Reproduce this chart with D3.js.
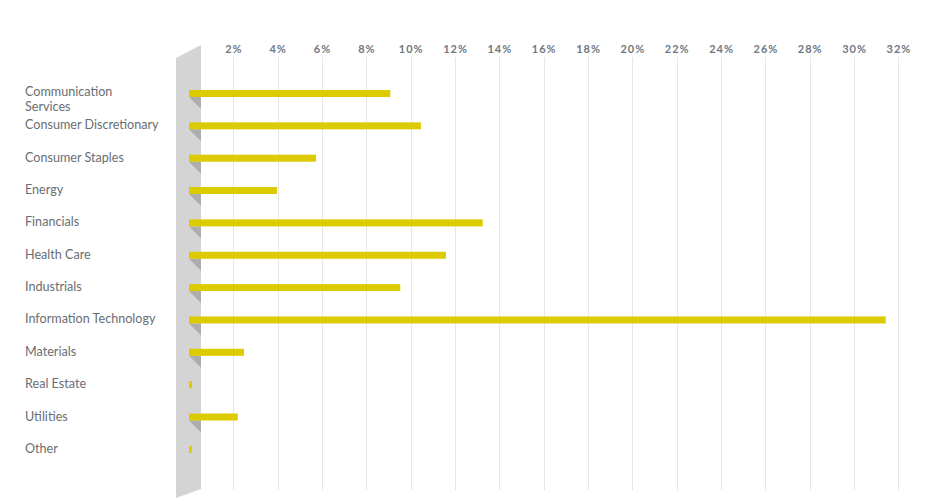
<!DOCTYPE html>
<html>
<head>
<meta charset="utf-8">
<script src="https://cdn.jsdelivr.net/npm/d3@7/dist/d3.min.js"></script>
<style>
  html, body { margin: 0; padding: 0; background: #ffffff; }
  svg { display: block; }
</style>
</head>
<body>
<svg id="chart" width="930" height="499"></svg>
<script>
const categories = [
  "Communication Services",
  "Consumer Discretionary",
  "Consumer Staples",
  "Energy",
  "Financials",
  "Health Care",
  "Industrials",
  "Information Technology",
  "Materials",
  "Real Estate",
  "Utilities",
  "Other"
];
const labelLines = [
  ["Communication", "Services"],
  ["Consumer Discretionary"],
  ["Consumer Staples"],
  ["Energy"],
  ["Financials"],
  ["Health Care"],
  ["Industrials"],
  ["Information Technology"],
  ["Materials"],
  ["Real Estate"],
  ["Utilities"],
  ["Other"]
];
const weights = [9.08, 10.46, 5.73, 3.97, 13.25, 11.59, 9.53, 31.43, 2.48, 0.14, 2.2, 0.13];
const tickValues = [2, 4, 6, 8, 10, 12, 14, 16, 18, 20, 22, 24, 26, 28, 30, 32];
const tickLabels = tickValues.map(v => v + "%");

const svg = d3.select("#chart");

const x = d3.scaleLinear().domain([0, 32]).range([189, 898.4]);
const y = d3.scalePoint().domain(categories).range([93.5, 93.5 + 11 * 32.35]);
const barH = 7;

// grid lines
svg.append("g").selectAll("line")
  .data(tickValues)
  .join("line")
  .attr("x1", d => Math.round(x(d)) + 0.5)
  .attr("x2", d => Math.round(x(d)) + 0.5)
  .attr("y1", 57)
  .attr("y2", 490)
  .attr("stroke", "#e6e6e6")
  .attr("stroke-width", 1);

// tick labels via axis
const axis = d3.axisTop(x).tickValues(tickValues).tickFormat((d, i) => tickLabels[i]).tickSize(0).tickPadding(0);
const ag = svg.append("g").attr("transform", "translate(0,53)").call(axis);
ag.select(".domain").remove();
ag.selectAll("text")
  .attr("fill", "#6f7780")
  .attr("font-family", "Lato, 'Open Sans', sans-serif")
  .attr("font-weight", "700")
  .attr("font-size", "11px")
  .style("letter-spacing", "1px");

// gray panel
const px0 = 176, px1 = 201;
svg.append("path")
  .attr("d", `M${px0},58 L${px1},45 L${px1},489 L${px0},498 Z`)
  .attr("fill", "#d4d4d4");

// shadows
svg.append("g").selectAll("path")
  .data(categories.map((c, i) => ({c, v: weights[i]})).filter(d => x(d.v) - x(0) >= 12))
  .join("path")
  .attr("d", d => {
    const top = y(d.c) + barH / 2;
    return `M${x(0)},${top} L${px1},${top} L${px1},${top + 12} Z`;
  })
  .attr("fill", "#adadad");

// bars
svg.append("g").selectAll("rect")
  .data(categories.map((c, i) => ({c, v: weights[i]})))
  .join("rect")
  .attr("x", x(0))
  .attr("y", d => y(d.c) - barH / 2)
  .attr("width", d => x(d.v) - x(0))
  .attr("height", barH)
  .attr("fill", "#dccb00");

// category labels
const lg = svg.append("g");
categories.forEach((c, i) => {
  const multi = labelLines[i].length > 1;
  const t = lg.append("text")
    .attr("x", 25)
    .attr("y", y(c) - (multi ? 3 : 1.5))
    .attr("fill", "#6a6e72")
    .attr("font-family", "Lato, 'Open Sans', sans-serif")
    .attr("font-size", "12.6px")
    .attr("dominant-baseline", "central");
  labelLines[i].forEach((ln, j) => {
    t.append("tspan").attr("x", 25).attr("dy", j === 0 ? 0 : "15.2px").text(ln);
  });
});
</script>
</body>
</html>
